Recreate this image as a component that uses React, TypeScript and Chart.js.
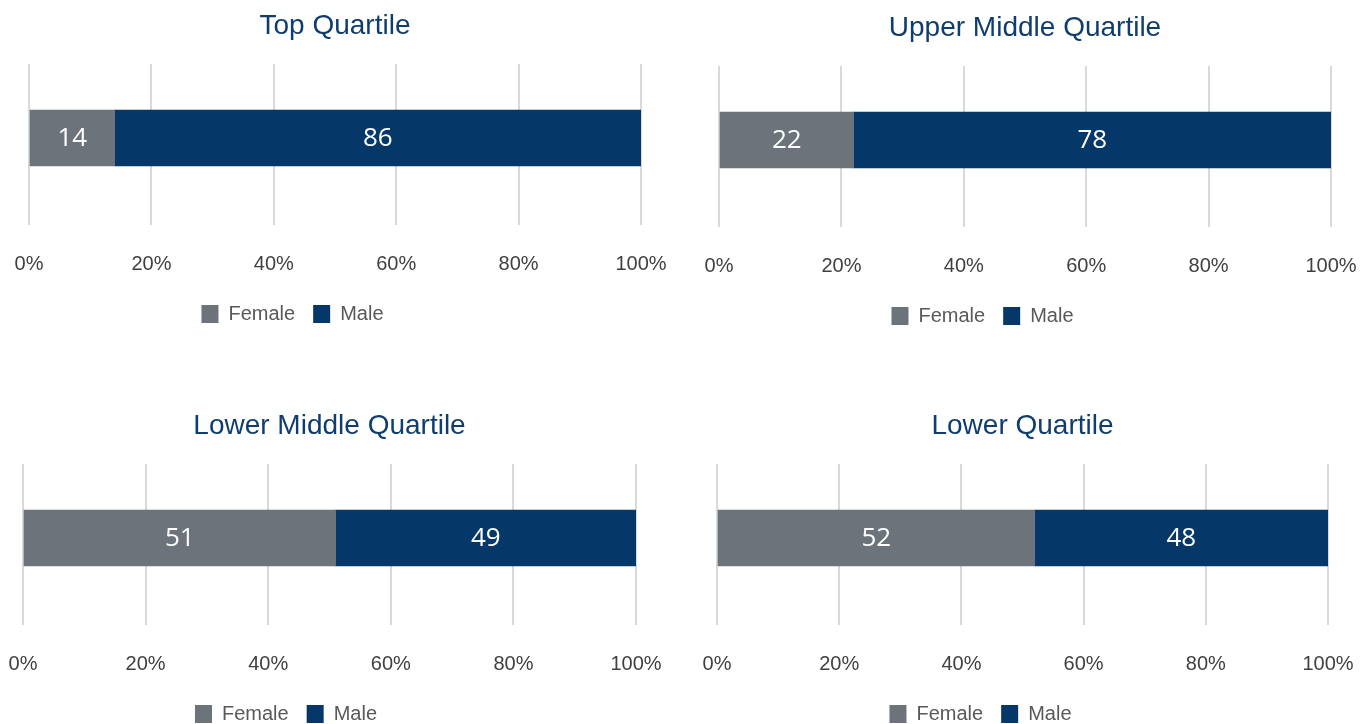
import React, { useEffect, useRef } from 'react';
import { Chart, registerables } from 'chart.js';

Chart.register(...registerables);

// ---- data ----
const panelTitles = ['Top Quartile', 'Upper Middle Quartile', 'Lower Middle Quartile', 'Lower Quartile'];
const seriesNames = ['Female', 'Male'];
const femaleValues = [14, 22, 51, 52];
const maleValues = [86, 78, 49, 48];
const categoryLabels = [''];
const tickSuffix = '%';

// ---- styles ----
const GRAY = '#6c737a';
const NAVY = '#063769';
const TITLE_COLOR = '#0f3d6e';
const TICK_COLOR = '#404040';
const LEGEND_COLOR = '#595959';
const GRID_COLOR = '#d9d9d9';
const FONT = '"Liberation Sans", Arial, sans-serif';
const LABEL_FONT = '"Open Sans", "Noto Sans", sans-serif';
const CANVAS_H = 334;

const panelLayout = [
  { left: 0, top: 0, width: 670, padL: 29, padR: 29, dx: -42.5 },
  { left: 690, top: 2, width: 670, padL: 29, padR: 29, dx: -42.5 },
  { left: 0, top: 400, width: 670, padL: 23, padR: 34, dx: -43.5 },
  { left: 690, top: 400, width: 670, padL: 27, padR: 32, dx: -42 },
];

const valueLabelPlugin = {
  id: 'valueLabels',
  afterDatasetsDraw(chart: any) {
    const ctx = chart.ctx;
    ctx.save();
    ctx.font = `26px ${LABEL_FONT}`;
    ctx.fillStyle = '#ffffff';
    ctx.textAlign = 'center';
    ctx.textBaseline = 'middle';
    chart.data.datasets.forEach((ds: any, i: number) => {
      const meta = chart.getDatasetMeta(i);
      meta.data.forEach((el: any, j: number) => {
        const p = el.getProps(['x', 'y', 'base'], true);
        ctx.fillText(String(ds.data[j]), (p.x + p.base) / 2, p.y + 1);
      });
    });
    ctx.restore();
  },
};

const legendShiftPlugin = {
  id: 'legendShift',
  afterLayout(chart: any, _args: any, opts: any) {
    const lg = chart.legend;
    if (!lg) return;
    const dx = (opts && opts.dx) || 0;
    lg.left += dx;
    lg.right += dx;
  },
};

function Panel({ index }: { index: number }) {
  const ref = useRef<HTMLCanvasElement>(null);
  const lay = panelLayout[index];
  useEffect(() => {
    const chart = new Chart(ref.current as HTMLCanvasElement, {
      type: 'bar',
      data: {
        labels: categoryLabels,
        datasets: [
          { label: seriesNames[0], data: [femaleValues[index]], backgroundColor: GRAY, barThickness: 56 },
          { label: seriesNames[1], data: [maleValues[index]], backgroundColor: NAVY, barThickness: 56 },
        ],
      },
      options: {
        indexAxis: 'y',
        responsive: false,
        animation: false,
        devicePixelRatio: 1,
        layout: { padding: { left: lay.padL, right: lay.padR, top: 0, bottom: 0 } },
        scales: {
          x: {
            stacked: true,
            min: 0,
            max: 100,
            ticks: {
              stepSize: 20,
              autoSkip: false,
              maxRotation: 0,
              padding: 27,
              color: TICK_COLOR,
              font: { family: FONT, size: 20 },
              callback: (v: any) => v + tickSuffix,
            },
            grid: { color: GRID_COLOR, lineWidth: 2, drawTicks: true, tickLength: 13 },
            border: { display: false },
            afterFit: (s: any) => {
              s.height = 74;
              s.paddingLeft = 0;
              s.paddingRight = 0;
            },
          },
          y: { stacked: true, display: false },
        },
        plugins: {
          title: {
            display: true,
            text: panelTitles[index],
            color: TITLE_COLOR,
            font: { family: FONT, size: 28, weight: 'normal' },
            padding: { top: 9, bottom: 21.4 },
          },
          legend: {
            position: 'bottom',
            labels: {
              boxWidth: 17,
              boxHeight: 18,
              padding: 18,
              color: LEGEND_COLOR,
              font: { family: FONT, size: 20 },
            },
          },
          tooltip: { enabled: false },
          legendShift: { dx: lay.dx },
        } as any,
      },
      plugins: [valueLabelPlugin, legendShiftPlugin],
    } as any);
    return () => chart.destroy();
  }, []);
  return (
    <canvas
      ref={ref}
      width={lay.width}
      height={CANVAS_H}
      style={{ position: 'absolute', left: lay.left, top: lay.top, width: lay.width, height: CANVAS_H }}
    />
  );
}

export default function App() {
  return (
    <div
      style={{
        position: 'absolute',
        left: 0,
        top: 0,
        width: 1370,
        height: 724,
        overflow: 'hidden',
        background: '#ffffff',
      }}
    >
      {panelTitles.map((_, i) => (
        <Panel key={i} index={i} />
      ))}
    </div>
  );
}
